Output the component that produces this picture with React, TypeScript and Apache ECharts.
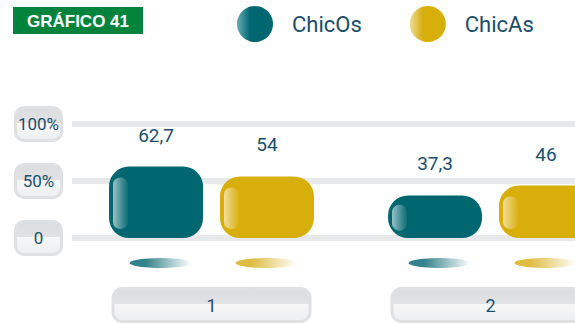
import React, { useEffect, useRef } from 'react';
import * as echarts from 'echarts';

const categories = ['1', '2'];
const seriesNames = ['ChicOs', 'ChicAs'];
const chicOs = [62.7, 37.3];
const chicAs = [54, 46];
const yTickLabels: Record<number, string> = { 0: '0', 50: '50%', 100: '100%' };
const titleText = 'GRÁFICO 41';

const TEAL = '#00666f';
const GOLD = '#d8ae0a';
const TEXT = '#1a4e6a';
const FONT = 'Roboto, "Liberation Sans", Arial, sans-serif';

const lg = (stops: [number, string][], x2 = 1, y2 = 0) =>
  new echarts.graphic.LinearGradient(0, 0, x2, y2, stops.map(([offset, color]) => ({ offset, color })));

const boxBg = () =>
  lg([[0, '#dcdddf'], [0.47, '#e1e2e4'], [0.48, '#f7f7f8'], [1, '#eeeff0']], 0, 1);

function highlight(name: string, data: number[], offsetPx: number) {
  return {
    type: 'custom',
    name,
    silent: true,
    z: 5,
    data: data.map((v, i) => [i, v]),
    renderItem: (params: any, api: any) => {
      const i = api.value(0);
      const v = api.value(1);
      const top = api.coord([i, v]);
      const base = api.coord([i, 0]);
      const left = top[0] + offsetPx - 47 + 4;
      const h = base[1] - top[1];
      const pad = Math.min(11, h * 0.22);
      return {
        type: 'rect',
        shape: { x: left, y: top[1] + pad, width: 15, height: h - 2 * pad + 2, r: 7 },
        style: {
          fill: lg([[0, 'rgba(255,255,255,0.6)'], [0.6, 'rgba(255,255,255,0.25)'], [1, 'rgba(255,255,255,0.05)']]),
        },
      };
    },
  };
}

function shadow(name: string, n: number, offsetX: number, color: string) {
  return {
    type: 'scatter',
    name,
    silent: true,
    data: Array.from({ length: n }, (_, i) => [i, 0]),
    symbol: 'circle',
    symbolSize: [62, 10],
    symbolOffset: [offsetX, 25],
    itemStyle: { color: lg([[0, color], [0.25, color], [1, '#ffffff']]) },
    z: 1,
  };
}

export default function App() {
  const ref = useRef<HTMLDivElement>(null);
  useEffect(() => {
    if (!ref.current) return;
    const chart = echarts.init(ref.current, undefined, { renderer: 'svg' });
    const labelFmt = (p: any) => String(p.value).replace('.', ',');
    const barLabel = {
      show: true,
      position: 'top',
      distance: 22,
      fontSize: 19,
      color: TEXT,
      fontFamily: FONT,
      formatter: labelFmt,
    };
    chart.setOption({
      animation: false,
      textStyle: { fontFamily: FONT },
      grid: { left: 72, top: 124, width: 558, height: 114, outerBoundsMode: 'none', containLabel: false },
      legend: {
        left: 237,
        top: 6,
        padding: 0,
        itemWidth: 36,
        itemHeight: 36,
        itemGap: 48,
        icon: 'circle',
        selectedMode: false,
        textStyle: { fontSize: 22, color: TEXT, fontFamily: FONT, padding: [0, 0, 0, 14] },
        data: [
          {
            name: seriesNames[0],
            itemStyle: { color: lg([[0, '#6aaab3'], [0.3, '#137582'], [0.36, TEAL], [1, TEAL]]) },
          },
          {
            name: seriesNames[1],
            itemStyle: { color: lg([[0, '#f0dc98'], [0.3, '#dbb526'], [0.36, GOLD], [1, GOLD]]) },
          },
        ],
      },
      graphic: [
        {
          type: 'group',
          left: 13,
          top: 7,
          children: [
            { type: 'rect', shape: { x: 0, y: 0, width: 130, height: 27 }, style: { fill: '#00843d' } },
            {
              type: 'text',
              x: 65,
              y: 14,
              style: {
                text: titleText,
                fill: '#ffffff',
                fontSize: 17,
                fontWeight: 'bold',
                fontFamily: '"Liberation Sans", Arial, sans-serif',
                align: 'center',
                verticalAlign: 'middle',
              },
            },
          ],
        },
      ],
      xAxis: {
        type: 'category',
        data: categories,
        axisLine: { show: false },
        axisTick: { show: false },
        axisLabel: {
          margin: 52,
          formatter: (v: string) => `{b|${v}}`,
          rich: {
            b: {
              width: 194,
              height: 30,
              lineHeight: 30,
              align: 'center',
              fontSize: 18,
              color: TEXT,
              fontFamily: FONT,
              borderRadius: 8,
              borderColor: '#dfe0e2',
              borderWidth: 3,
              backgroundColor: boxBg(),
            },
          },
        },
      },
      yAxis: {
        type: 'value',
        min: 0,
        max: 100,
        interval: 50,
        axisLine: { show: false },
        axisTick: { show: false },
        splitLine: {
          show: true,
          lineStyle: { color: '#e8e9ea', width: 6 },
        },
        axisLabel: {
          margin: 12,
          formatter: (v: number) => `{b|${yTickLabels[v] ?? v}}`,
          rich: {
            b: {
              width: 43,
              height: 30,
              lineHeight: 30,
              align: 'center',
              fontSize: 17,
              color: TEXT,
              fontFamily: FONT,
              borderRadius: 7,
              borderColor: '#dfe0e2',
              borderWidth: 3,
              backgroundColor: boxBg(),
            },
          },
        },
      },
      series: [
        {
          type: 'bar',
          name: seriesNames[0],
          data: chicOs,
          barWidth: 94,
          barGap: '18%',
          z: 3,
          itemStyle: { color: TEAL, borderRadius: 20 },
          label: barLabel,
        },
        {
          type: 'bar',
          name: seriesNames[1],
          data: chicAs,
          barWidth: 94,
          z: 3,
          itemStyle: { color: GOLD, borderRadius: 20 },
          label: barLabel,
        },
        highlight('hl0', chicOs, -55.5),
        highlight('hl1', chicAs, 55.5),
        shadow('sh0', categories.length, -51, '#00626f'),
        shadow('sh1', categories.length, 55, '#d6aa12'),
      ],
    });
    return () => chart.dispose();
  }, []);
  return (
    <div
      ref={ref}
      style={{ position: 'absolute', left: 0, top: 0, width: 575, height: 323, background: '#fff' }}
    />
  );
}
